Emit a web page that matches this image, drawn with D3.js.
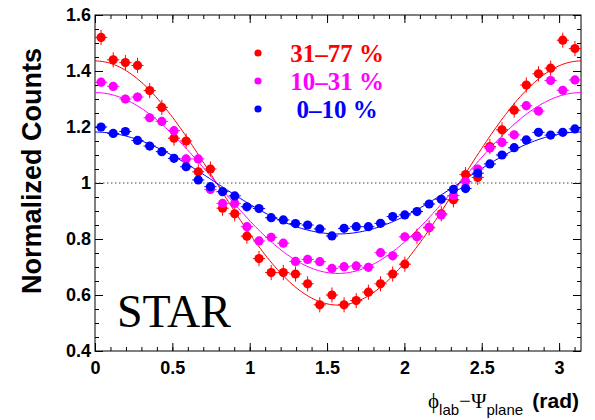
<!DOCTYPE html>
<html>
<head>
<meta charset="utf-8">
<script src="https://cdn.jsdelivr.net/npm/d3@7"></script>
<style>
  html, body { margin: 0; padding: 0; background: #fff; }
  svg { display: block; }
</style>
</head>
<body>
<svg id="chart" width="595" height="420"></svg>
<script>
// Azimuthal distribution relative to the reaction plane, three centrality classes
const nBins = 40;
const seriesNames = ["31–77 %", "10–31 %", "0–10 %"];
const seriesColors = ["#ff0000", "#ff00ff", "#0000ff"];

const central3177 = [1.52, 1.44, 1.43, 1.42, 1.33, 1.27, 1.16, 1.15, 1.04, 1.05,
                     0.91, 0.89, 0.81, 0.73, 0.68, 0.68, 0.675, 0.64, 0.565, 0.60,
                     0.565, 0.58, 0.61, 0.64, 0.675, 0.71, 0.81, 0.84, 0.89, 0.94,
                     1.03, 1.02, 1.13, 1.19, 1.26, 1.35, 1.39, 1.41, 1.51, 1.48];
const central1031 = [1.36, 1.345, 1.30, 1.307, 1.233, 1.22, 1.187, 1.086, 1.086, 0.977,
                     0.927, 0.927, 0.844, 0.793, 0.806, 0.785, 0.72, 0.727, 0.719, 0.695,
                     0.701, 0.704, 0.699, 0.751, 0.74, 0.808, 0.808, 0.842, 0.886, 0.955,
                     1.005, 1.05, 1.125, 1.145, 1.172, 1.276, 1.257, 1.366, 1.331, 1.368];
const central010  = [1.20, 1.177, 1.184, 1.152, 1.132, 1.112, 1.088, 1.058, 1.011, 0.987,
                     0.969, 0.954, 0.915, 0.909, 0.876, 0.868, 0.855, 0.85, 0.836, 0.811,
                     0.838, 0.844, 0.844, 0.856, 0.88, 0.886, 0.898, 0.925, 0.942, 0.977,
                     0.98, 1.035, 1.068, 1.10, 1.126, 1.154, 1.181, 1.171, 1.181, 1.193];
const seriesValues = [central3177, central1031, central010];
const seriesErrors = [0.027, 0.016, 0.010];

// fit: 1 + 2 v2 cos(2 phi), amplitude = 2 v2
const fitAmplitude = [0.436, 0.323, 0.182];

const xTicks = [0, 0.5, 1, 1.5, 2, 2.5, 3];
const xTickLabels = ["0", "0.5", "1", "1.5", "2", "2.5", "3"];
const yTicks = [0.4, 0.6, 0.8, 1.0, 1.2, 1.4, 1.6];
const yTickLabels = ["0.4", "0.6", "0.8", "1", "1.2", "1.4", "1.6"];

const svg = d3.select("#chart");
const plotL = 95, plotR = 581, plotT = 15, plotB = 351;

const x = d3.scaleLinear().domain([0, Math.PI]).range([plotL, plotR]);
const y = d3.scaleLinear().domain([0.4, 1.6]).range([plotB, plotT]);

const binW = Math.PI / nBins;
const binCenters = d3.range(nBins).map(i => (i + 0.5) * binW);

const xMinor = d3.range(0, 32).map(i => i / 10);
const yMinor = d3.range(0, 25).map(i => 0.4 + i * 0.05);

const tickFont = "'Liberation Sans', Arial, sans-serif";
const serif = "'Liberation Serif', 'Times New Roman', serif";

function styleAxis(g) {
  g.select(".domain").remove();
  g.selectAll(".tick line").attr("stroke", "#000").attr("stroke-width", 1);
  g.selectAll(".tick text")
    .attr("fill", "#000")
    .style("font-family", tickFont)
    .style("font-weight", "bold")
    .style("font-size", "18px");
}

// minor ticks (all four sides)
svg.append("g").attr("transform", `translate(0,${plotB})`)
  .call(d3.axisBottom(x).tickValues(xMinor).tickSizeInner(-4).tickSizeOuter(0).tickFormat(""))
  .call(styleAxis);
svg.append("g").attr("transform", `translate(0,${plotT})`)
  .call(d3.axisTop(x).tickValues(xMinor).tickSizeInner(-4).tickSizeOuter(0).tickFormat(""))
  .call(styleAxis);
svg.append("g").attr("transform", `translate(${plotL},0)`)
  .call(d3.axisLeft(y).tickValues(yMinor).tickSizeInner(-4).tickSizeOuter(0).tickFormat(""))
  .call(styleAxis);
svg.append("g").attr("transform", `translate(${plotR},0)`)
  .call(d3.axisRight(y).tickValues(yMinor).tickSizeInner(-4).tickSizeOuter(0).tickFormat(""))
  .call(styleAxis);

// major ticks with labels
svg.append("g").attr("transform", `translate(0,${plotB})`)
  .call(d3.axisBottom(x).tickValues(xTicks).tickSizeInner(-8).tickSizeOuter(0).tickPadding(10)
    .tickFormat((d, i) => xTickLabels[i]))
  .call(styleAxis);
svg.append("g").attr("transform", `translate(0,${plotT})`)
  .call(d3.axisTop(x).tickValues(xTicks).tickSizeInner(-8).tickSizeOuter(0).tickFormat(""))
  .call(styleAxis);
svg.append("g").attr("transform", `translate(${plotL},0)`)
  .call(d3.axisLeft(y).tickValues(yTicks).tickSizeInner(-8).tickSizeOuter(0).tickPadding(4)
    .tickFormat((d, i) => yTickLabels[i]))
  .call(styleAxis);
svg.append("g").attr("transform", `translate(${plotR},0)`)
  .call(d3.axisRight(y).tickValues(yTicks).tickSizeInner(-8).tickSizeOuter(0).tickFormat(""))
  .call(styleAxis);

// frame
svg.append("rect")
  .attr("x", plotL).attr("y", plotT)
  .attr("width", plotR - plotL).attr("height", plotB - plotT)
  .attr("fill", "none").attr("stroke", "#000").attr("stroke-width", 1);

// reference line at unity
svg.append("line")
  .attr("x1", x(0)).attr("x2", x(Math.PI))
  .attr("y1", y(1)).attr("y2", y(1))
  .attr("stroke", "#444").attr("stroke-width", 1)
  .attr("stroke-dasharray", "1.5,2.5");

// fit curves
const phiGrid = d3.range(0, 201).map(i => i * Math.PI / 200);
const line = d3.line().x(d => x(d[0])).y(d => y(d[1]));
fitAmplitude.forEach((a, s) => {
  svg.append("path")
    .datum(phiGrid.map(p => [p, 1 + a * Math.cos(2 * p)]))
    .attr("d", line)
    .attr("fill", "none")
    .attr("stroke", seriesColors[s])
    .attr("stroke-width", 1);
});

// data points with error bars
seriesValues.forEach((vals, s) => {
  const g = svg.append("g");
  const col = seriesColors[s];
  const err = seriesErrors[s];
  vals.forEach((v, i) => {
    const c = binCenters[i];
    g.append("line")
      .attr("x1", x(c - binW / 2)).attr("x2", x(c + binW / 2))
      .attr("y1", y(v)).attr("y2", y(v))
      .attr("stroke", col).attr("stroke-width", 1);
    g.append("line")
      .attr("x1", x(c)).attr("x2", x(c))
      .attr("y1", y(v - err)).attr("y2", y(v + err))
      .attr("stroke", col).attr("stroke-width", 1);
    g.append("circle")
      .attr("cx", x(c)).attr("cy", y(v)).attr("r", 4.6)
      .attr("fill", col);
  });
});

// legend
const legendY = [53, 81, 109];
seriesNames.forEach((name, s) => {
  svg.append("circle").attr("cx", 258).attr("cy", legendY[s]).attr("r", 3.6)
    .attr("fill", seriesColors[s]);
  svg.append("text")
    .attr("x", 337).attr("y", legendY[s] + 8.5)
    .attr("text-anchor", "middle")
    .attr("fill", seriesColors[s])
    .style("font-family", serif)
    .style("font-weight", "bold")
    .style("font-size", "25px")
    .text(name);
});

// experiment label
svg.append("text")
  .attr("x", 117).attr("y", 327)
  .style("font-family", serif)
  .style("font-size", "46px")
  .attr("fill", "#000")
  .text("STAR");

// y axis title
svg.append("text")
  .attr("transform", "translate(41,171) rotate(-90)")
  .attr("text-anchor", "middle")
  .style("font-family", tickFont)
  .style("font-weight", "bold")
  .style("font-size", "27px")
  .attr("fill", "#000")
  .text("Normalized Counts");

// x axis title: phi_lab - Psi_plane (rad)
const xt = svg.append("text").attr("x", 428).attr("y", 408).attr("fill", "#000");
xt.append("tspan").style("font-family", serif).style("font-size", "21px").text("ϕ");
xt.append("tspan").attr("dy", 7).style("font-family", tickFont).style("font-size", "15px").text("lab");
xt.append("tspan").attr("dy", -7).style("font-family", serif).style("font-size", "21px").text("−");
xt.append("tspan").style("font-family", serif).style("font-size", "21px").text("Ψ");
xt.append("tspan").attr("dy", 7).style("font-family", tickFont).style("font-size", "15px").text("plane");
svg.append("text").attr("x", 579).attr("y", 408).attr("text-anchor", "end")
  .attr("fill", "#000")
  .style("font-family", tickFont).style("font-weight", "bold").style("font-size", "21px").text("(rad)");
</script>
</body>
</html>
